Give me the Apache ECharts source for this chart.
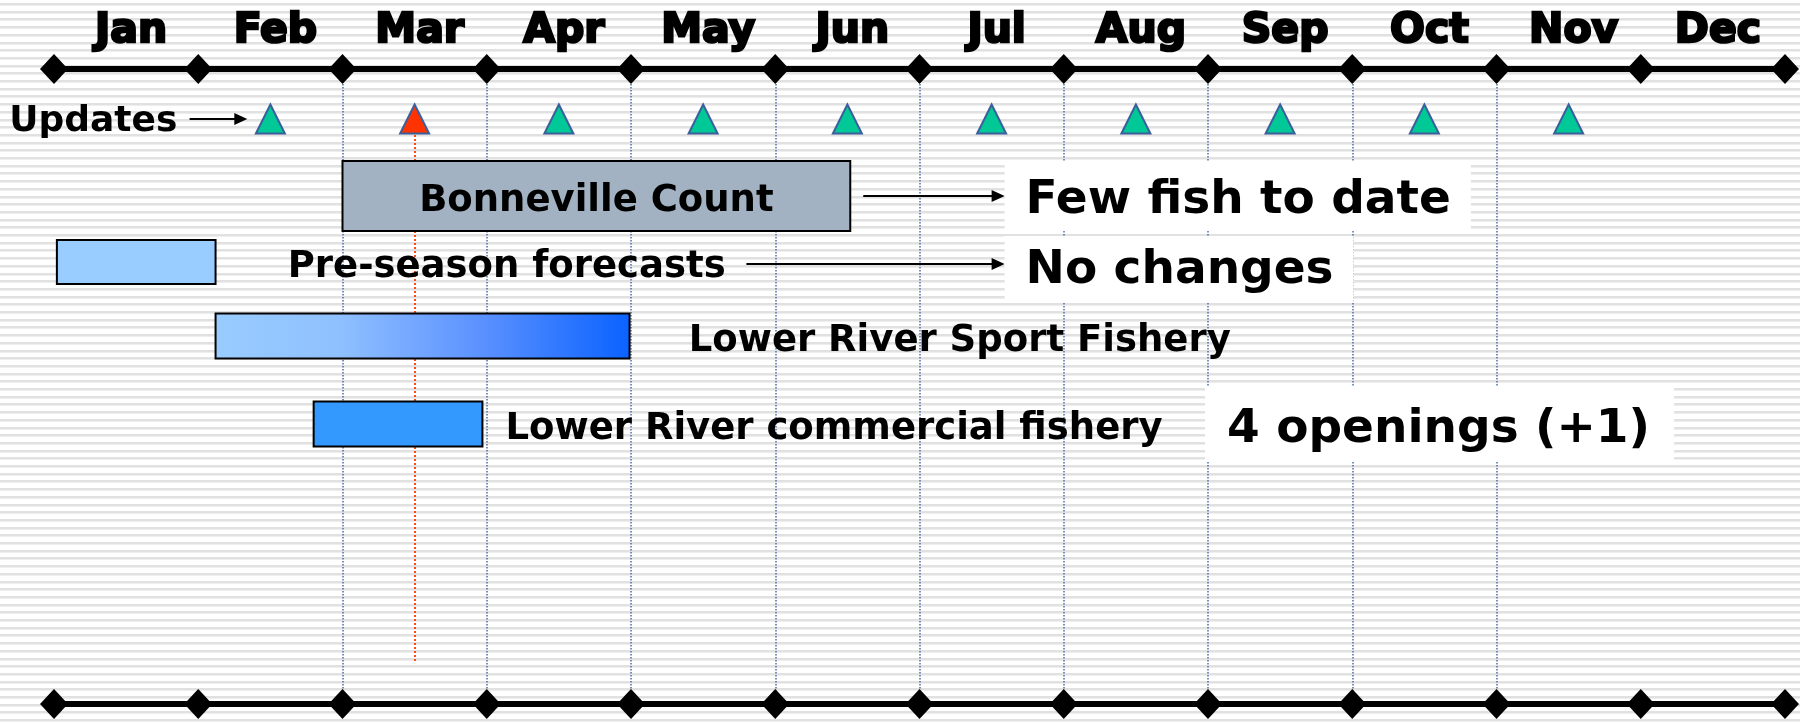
<!DOCTYPE html>
<html>
<head>
<meta charset="utf-8">
<script src="https://cdn.jsdelivr.net/npm/echarts@6/dist/echarts.min.js"></script>
<style>
  html, body { margin: 0; padding: 0; background: #fff; }
  #chart { width: 1800px; height: 724px; }
</style>
</head>
<body>
<div id="chart"></div>
<script>
// timeline data (x = months since 1 Jan)
const MONTHS = ["Jan", "Feb", "Mar", "Apr", "May", "Jun", "Jul", "Aug", "Sep", "Oct", "Nov", "Dec"];
const MONTH_EDGES = [0, 1, 2, 3, 4, 5, 6, 7, 8, 9, 10, 11, 12];
const GUIDE_MONTHS = ["Mar", "Apr", "May", "Jun", "Jul", "Aug", "Sep", "Oct", "Nov"];
const UPDATE_MONTHS = ["Feb", "Mar", "Apr", "May", "Jun", "Jul", "Aug", "Sep", "Oct", "Nov"];
const CURRENT_UPDATE = "Mar";
const UPDATE_LABEL = "Updates";

const TASKS = ["Bonneville Count", "Pre-season forecasts", "Lower River Sport Fishery", "Lower River commercial fishery"];
const TASK_START = [2.0, 0.02, 1.12, 1.8];
const TASK_END = [5.52, 1.12, 3.99, 2.97];
const TASK_NOTES = ["Few fish to date", "No changes", "", "4 openings (+1)"];

// layout (y in px below the top time line, x in months)
const PLOT_H = 635;
const UPDATES_Y = 50;
const RED_LINE_END = 594;
const ROW_Y = [127, 193, 267, 355];
const ROW_H = [70, 44, 45, 45];
const LABEL_AT = [null, 1.62, 4.4, 3.13];
const ARROW_FROM = [5.61, 4.8, null, null];
const ARROW_TO = [6.59, 6.59, null, null];
const ARROW_Y = [127, 195, null, null];
const NOTE_AT = [6.59, 6.59, null, 7.98];
const NOTE_BOX_Y = [126.5, 200, null, 355.5];
const NOTE_BOX_H = [69, 66, null, 75];
const NOTE_TEXT_Y = [132, 202, null, 360.5];
const NOTE_PAD_X = [[21, 20], [21, 20], null, [22, 24]];

const FONT = '"DejaVu Sans", sans-serif';
const NOTE_FONT_SIZE = 47;
const TASK_FILL = [
  "#a3b2c2",
  "#99ccff",
  new echarts.graphic.LinearGradient(0, 0, 1, 0, [
    { offset: 0, color: "#99ccff" },
    { offset: 0.3, color: "#8fc0ff" },
    { offset: 0.65, color: "#5a90ff" },
    { offset: 1, color: "#0a62ff" },
  ]),
  "#3399ff",
];

// striped slide background
const stripe = document.createElement("canvas");
stripe.width = 8;
stripe.height = 77;
const sctx = stripe.getContext("2d");
sctx.fillStyle = "#ffffff";
sctx.fillRect(0, 0, 8, 77);
for (let k = 0; k < 10; k++) {
  const y = Math.round(k * 7.7) + 3;
  sctx.fillStyle = "#e1e1e1";
  sctx.fillRect(0, y, 8, 2);
  sctx.fillStyle = "#eeeeee";
  sctx.fillRect(0, y + 2, 8, 1);
}

// text width for the white note boxes
const measure = document.createElement("canvas").getContext("2d");
function textWidth(text, size) {
  measure.font = "bold " + size + "px " + FONT;
  return measure.measureText(text).width;
}

function arrow(p1, p2, children) {
  children.push({
    type: "line",
    shape: { x1: p1[0], y1: p1[1], x2: p2[0] - 10, y2: p2[1] },
    style: { stroke: "#000", lineWidth: 2 },
  });
  children.push({
    type: "polygon",
    shape: { points: [[p2[0] - 13, p2[1] - 6], [p2[0], p2[1]], [p2[0] - 13, p2[1] + 6]] },
    style: { fill: "#000" },
  });
}

function renderTask(params, api) {
  const i = params.dataIndex;
  const s = api.coord([api.value(0), ROW_Y[i]]);
  const e = api.coord([api.value(1), ROW_Y[i]]);
  const h = ROW_H[i];
  const children = [{
    type: "rect",
    shape: { x: s[0], y: s[1] - h / 2, width: e[0] - s[0], height: h },
    style: { fill: TASK_FILL[i], stroke: "#000", lineWidth: 2 },
  }];
  let lx, align;
  if (LABEL_AT[i] == null) {
    lx = (s[0] + e[0]) / 2;
    align = "center";
  } else {
    lx = api.coord([LABEL_AT[i], 0])[0];
    align = "left";
  }
  children.push({
    type: "text",
    x: lx,
    y: s[1] + 5,
    style: {
      text: TASKS[i], fill: "#000", align: align, verticalAlign: "middle",
      fontFamily: FONT, fontWeight: "bold", fontSize: 37,
    },
  });
  if (ARROW_FROM[i] != null) {
    arrow(api.coord([ARROW_FROM[i], ARROW_Y[i]]), api.coord([ARROW_TO[i], ARROW_Y[i]]), children);
  }
  if (TASK_NOTES[i]) {
    const b = api.coord([NOTE_AT[i], NOTE_BOX_Y[i]]);
    const t = api.coord([NOTE_AT[i], NOTE_TEXT_Y[i]]);
    const pad = NOTE_PAD_X[i];
    const w = textWidth(TASK_NOTES[i], NOTE_FONT_SIZE) + pad[0] + pad[1];
    children.push({
      type: "rect",
      z2: 9,
      shape: { x: b[0], y: b[1] - NOTE_BOX_H[i] / 2, width: w, height: NOTE_BOX_H[i] },
      style: { fill: "#ffffff" },
    });
    children.push({
      type: "text",
      x: t[0] + pad[0],
      y: t[1],
      z2: 10,
      style: {
        text: TASK_NOTES[i], fill: "#000", align: "left", verticalAlign: "middle",
        fontFamily: FONT, fontWeight: "bold", fontSize: NOTE_FONT_SIZE,
      },
    });
  }
  return { type: "group", children };
}

const chart = echarts.init(document.getElementById("chart"));

const axisBase = {
  type: "value",
  min: 0,
  max: 12,
  axisLine: { show: true, onZero: false, lineStyle: { color: "#000", width: 6 } },
  axisTick: { show: false },
  axisLabel: { show: false },
  splitLine: { show: false },
};

chart.setOption({
  backgroundColor: { image: stripe, repeat: "repeat" },
  animation: false,
  grid: { left: 54, right: 15, top: 69, bottom: 20 },
  xAxis: [
    Object.assign({ position: "bottom" }, axisBase),
    Object.assign({ position: "top" }, axisBase),
  ],
  yAxis: { type: "value", min: 0, max: PLOT_H, inverse: true, show: false },
  series: [
    {
      // month guides + current-update marker line
      type: "line",
      data: [],
      z: 1,
      silent: true,
      markLine: {
        z: 1,
        silent: true,
        symbol: "none",
        label: { show: false },
        lineStyle: { color: "#4a6fa8", type: "dotted", width: 1.5 },
        data: GUIDE_MONTHS.map((m) => ({ xAxis: MONTHS.indexOf(m) })).concat([
          [
            { coord: [MONTHS.indexOf(CURRENT_UPDATE) + 0.5, UPDATES_Y], lineStyle: { color: "#ff4a1a", width: 2 } },
            { coord: [MONTHS.indexOf(CURRENT_UPDATE) + 0.5, RED_LINE_END] },
          ],
        ]),
      },
    },
    {
      type: "custom",
      z: 3,
      clip: false,
      renderItem: renderTask,
      encode: { x: [0, 1] },
      data: TASKS.map((t, i) => [TASK_START[i], TASK_END[i]]),
    },
    {
      type: "scatter",
      z: 5,
      clip: false,
      symbol: "triangle",
      symbolSize: [29, 29],
      data: UPDATE_MONTHS.map((m) => [MONTHS.indexOf(m) + 0.5, UPDATES_Y]),
      itemStyle: {
        color: (p) => (UPDATE_MONTHS[p.dataIndex] === CURRENT_UPDATE ? "#ff3300" : "#00c896"),
        borderColor: "#3d5e9c",
        borderWidth: 2,
        opacity: 1,
      },
    },
    {
      // "Updates" label with arrow
      type: "custom",
      z: 5,
      clip: false,
      data: [[-0.31, 1.34]],
      encode: { x: [0, 1] },
      renderItem: (params, api) => {
        const t = api.coord([api.value(0), UPDATES_Y]);
        const a2 = api.coord([api.value(1), UPDATES_Y]);
        const a1 = api.coord([0.94, UPDATES_Y]);
        const children = [{
          type: "text",
          x: t[0],
          y: t[1] + 3,
          style: {
            text: UPDATE_LABEL, fill: "#000", align: "left", verticalAlign: "middle",
            fontFamily: FONT, fontWeight: "bold", fontSize: 36,
          },
        }];
        arrow(a1, a2, children);
        return { type: "group", children };
      },
    },
    {
      type: "scatter",
      z: 6,
      clip: false,
      symbol: "diamond",
      symbolSize: [28, 30],
      itemStyle: { color: "#000", opacity: 1 },
      data: MONTH_EDGES.map((x) => [x, 0]).concat(MONTH_EDGES.map((x) => [x, PLOT_H])),
    },
    {
      // month names above the time line
      type: "custom",
      z: 6,
      clip: false,
      encode: { x: 0 },
      data: MONTHS.map((m, i) => [i + 0.5]),
      renderItem: (params, api) => {
        const p = api.coord([api.value(0) + 0.035, -38]);
        return {
          type: "text",
          x: p[0],
          y: p[1],
          style: {
            text: MONTHS[params.dataIndex], fill: "#000", stroke: "#000", lineWidth: 2.5,
            align: "center", verticalAlign: "middle",
            fontFamily: FONT, fontWeight: "bold", fontSize: 41,
          },
        };
      },
    },
  ],
});
</script>
</body>
</html>
